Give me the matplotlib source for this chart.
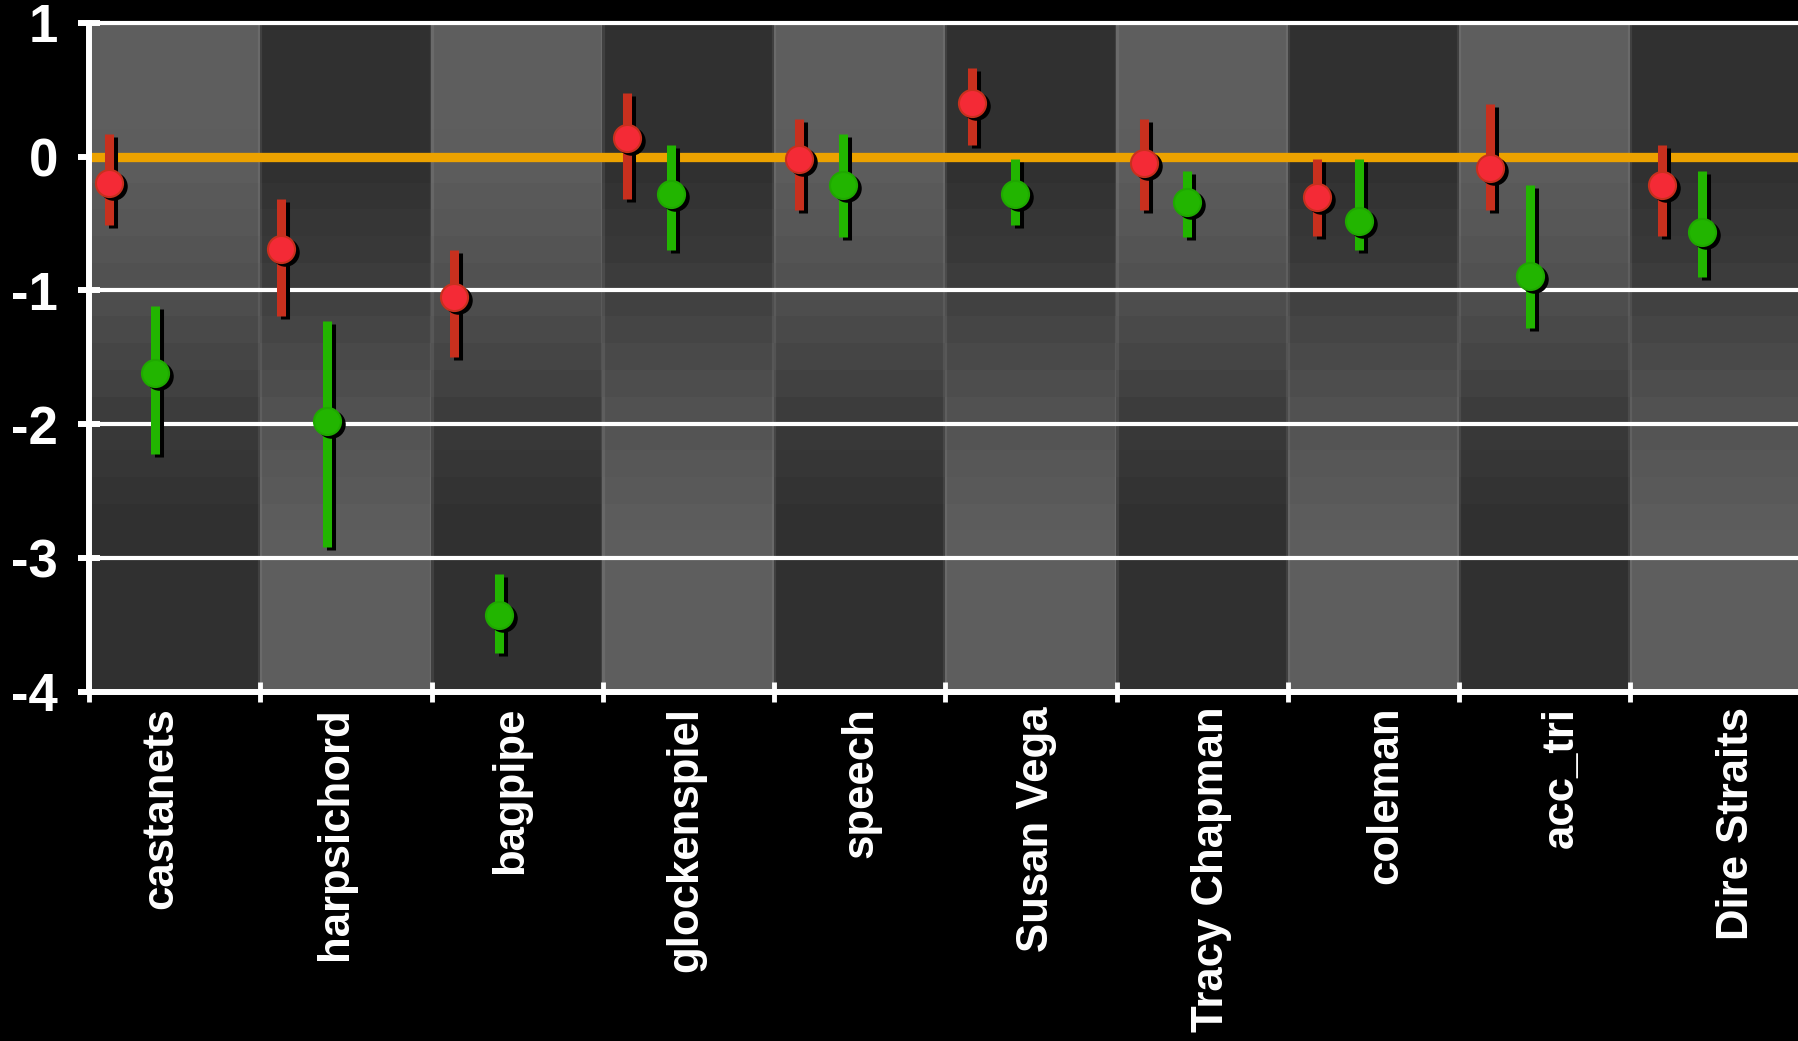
import numpy as np
import matplotlib
matplotlib.use('Agg')
import matplotlib.pyplot as plt
from matplotlib.transforms import ScaledTranslation

# categories along x
categories = ['castanets', 'harpsichord', 'bagpipe', 'glockenspiel', 'speech',
              'Susan Vega', 'Tracy Chapman', 'coleman', 'acc_tri', 'Dire Straits']

# red series: centre, lower end, upper end
red_mid = [-0.20, -0.69, -1.05, 0.14, -0.02, 0.40, -0.05, -0.30, -0.085, -0.21]
red_lo = [-0.51, -1.19, -1.50, -0.32, -0.40, 0.09, -0.40, -0.59, -0.40, -0.59]
red_hi = [0.17, -0.32, -0.70, 0.475, 0.28, 0.66, 0.28, -0.015, 0.395, 0.09]

# green series: centre, lower end, upper end
green_mid = [-1.62, -1.98, -3.43, -0.28, -0.215, -0.28, -0.34, -0.48, -0.89, -0.56]
green_lo = [-2.22, -2.92, -3.71, -0.70, -0.60, -0.51, -0.60, -0.70, -1.28, -0.90]
green_hi = [-1.12, -1.23, -3.12, 0.09, 0.17, -0.015, -0.105, -0.02, -0.21, -0.105]

y_ticks = [1, 0, -1, -2, -3, -4]

DPI = 100
fig = plt.figure(figsize=(17.98, 10.41), dpi=DPI, facecolor='black')
ax = fig.add_axes([89 / 1798, 1 - 691.5 / 1041, 1 - 89 / 1798 + 0.002, (691.5 - 23) / 1041])
ax.set_facecolor('black')
n = len(categories)
ax.set_xlim(0, n)
ax.set_ylim(-4, 1)

# checkerboard-like background: columns fade from light to dark (and back)
edges = np.arange(1.0, -4.0001, -0.2)
centers = (edges[:-1] + edges[1:]) / 2
t = np.clip((0.3 - centers) / 3.4, 0, 1)
t = t * t * (3 - 2 * t)
bg = np.zeros((len(centers), n))
for i in range(n):
    if i % 2 == 0:
        bg[:, i] = 94 - 46 * t
    else:
        bg[:, i] = 48 + 46 * t
ax.imshow(bg, cmap='gray', vmin=0, vmax=255, extent=(0, n, -4, 1),
          aspect='auto', interpolation='nearest', zorder=0)
for i in range(1, n):
    ax.axvline(i, color='white', alpha=0.08, lw=3, zorder=0.5)

for yv in [-1, -2, -3]:
    ax.axhline(yv, color='white', lw=3, zorder=1)
ax.axhline(0, color='#eca200', lw=6.7, zorder=2)

x = np.arange(n)
x_red = x * 1.008 + 0.115
x_green = x * 1.004 + 0.385

shadow = ax.transData + ScaledTranslation(4 / DPI, -3 / DPI, fig.dpi_scale_trans)

for xs, lo, hi, mid, bar_c, face_c, edge_c in [
        (x_red, red_lo, red_hi, red_mid, '#c8301e', '#f42a36', '#c8301e'),
        (x_green, green_lo, green_hi, green_mid, '#22b500', '#22b500', '#1fa800')]:
    ax.vlines(xs, lo, hi, colors='black', lw=6.5, capstyle='butt',
              transform=shadow, zorder=3)
    ax.vlines(xs, lo, hi, colors=bar_c, lw=6.5, capstyle='butt', zorder=4)
    ax.plot(xs, mid, ls='none', marker='o', ms=19.5, mfc='black', mec='black',
            transform=shadow, zorder=5)
    ax.plot(xs, mid, ls='none', marker='o', ms=19.5, mfc=face_c, mec=edge_c,
            mew=1.5, zorder=6)

# spines
for side in ['left', 'top', 'bottom']:
    ax.spines[side].set_color('white')
ax.spines['left'].set_linewidth(4.3)
ax.spines['bottom'].set_linewidth(4.3)
ax.spines['top'].set_linewidth(3)
ax.spines['right'].set_visible(False)

# y axis
ax.set_yticks(y_ticks)
ax.set_yticklabels([str(v) for v in y_ticks])
ax.tick_params(axis='y', direction='inout', length=16.5, width=4.3,
               color='white', labelcolor='white', pad=14)
for lab in ax.get_yticklabels():
    lab.set_family(['Liberation Sans Narrow', 'Liberation Sans', 'DejaVu Sans'])
    lab.set_fontweight('bold')
    lab.set_fontsize(38)

# x axis: boundary ticks plus rotated category labels
ax.set_xticks(np.arange(n + 1))
ax.set_xticklabels([])
ax.tick_params(axis='x', which='major', direction='inout', length=14, width=3.5,
               color='white')
label_pos = 0.42 + np.arange(n) * 1.022
ax.set_xticks(label_pos, categories, minor=True)
ax.tick_params(axis='x', which='minor', length=0, pad=11, labelcolor='white')
for lab in ax.get_xticklabels(minor=True):
    lab.set_rotation(90)
    lab.set_family(['Liberation Sans', 'DejaVu Sans'])
    lab.set_fontweight('bold')
    lab.set_fontsize(31.5)
    lab.set_va('top')
    lab.set_ha('center')

fig.savefig('out.png', dpi=DPI, facecolor='black')
